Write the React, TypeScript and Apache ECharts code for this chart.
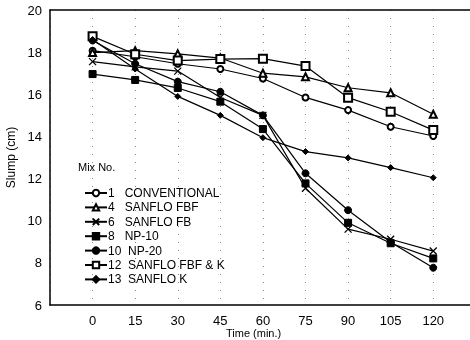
import React, { useEffect, useRef } from "react";
import * as echarts from "echarts";

const times = [0, 15, 30, 45, 60, 75, 90, 105, 120];
const xTickLabels = ["0", "15", "30", "45", "60", "75", "90", "105", "120"];
const yTickLabels = [6, 8, 10, 12, 14, 16, 18, 20];

const mix1 = [18.07, 17.78, 17.45, 17.2, 16.75, 15.85, 15.25, 14.46, 14.02];
const mix4 = [17.98, 18.07, 17.92, 17.72, 17.0, 16.83, 16.31, 16.07, 15.05];
const mix6 = [17.55, 17.3, 17.1, 15.85, 15.0, 11.54, 9.6, 9.12, 8.56];
const mix8 = [16.96, 16.68, 16.3, 15.65, 14.35, 11.77, 9.9, 8.93, 8.21];
const mix10 = [18.55, 17.45, 16.6, 16.12, 15.0, 12.25, 10.5, 8.98, 7.77];
const mix12 = [18.75, 17.9, 17.6, 17.67, 17.69, 17.34, 15.84, 15.17, 14.3];
const mix13 = [18.6, 17.2, 15.9, 15.0, 13.94, 13.28, 12.98, 12.52, 12.04];

const seriesNames = [
  "1   CONVENTIONAL",
  "4   SANFLO FBF",
  "6   SANFLO FB",
  "8   NP-10",
  "10  NP-20",
  "12  SANFLO FBF & K",
  "13  SANFLO K",
];
const seriesData = [mix1, mix4, mix6, mix8, mix10, mix12, mix13];
const symbols = [
  "emptyCircle",
  "emptyTriangle",
  "path://M0,0L10,10M10,0L0,10",
  "rect",
  "circle",
  "emptyRect",
  "diamond",
];
const symbolSizes = [6, 7, 7, 7, 7, 8, 6];

const FONT = "'Liberation Sans', Arial, Helvetica, sans-serif";

export default function App() {
  const ref = useRef<HTMLDivElement>(null);
  useEffect(() => {
    if (!ref.current) return;
    const chart = echarts.init(ref.current, null, { renderer: "svg" });
    const series = seriesNames.map((name, i) => ({
      name,
      type: "line",
      data: times.map((t, j) => [t, seriesData[i][j]]),
      symbol: symbols[i],
      symbolSize: symbolSizes[i],
      showAllSymbol: true,
      lineStyle: { color: "#000", width: 1.2 },
      itemStyle: {
        color: "#000",
        borderColor: "#000",
        borderWidth: i === 2 ? 1.3 : 1,
      },
      emphasis: { disabled: true },
    }));
    chart.setOption({
      animation: false,
      textStyle: { fontFamily: FONT },
      grid: { left: 50, right: -3, top: 10, bottom: 35, outerBoundsMode: "none" },
      xAxis: [
        {
          type: "value",
          min: -15,
          max: 134,
          interval: 15,
          axisLine: { onZero: false, lineStyle: { color: "#000", width: 1.5 } },
          axisTick: { show: false },
          axisLabel: {
            color: "#000",
            fontSize: 13,
            fontFamily: FONT,
            margin: 9,
            showMaxLabel: false,
            formatter: (v: number) => {
              const idx = times.indexOf(v);
              return idx >= 0 ? xTickLabels[idx] : "";
            },
          },
          splitLine: {
            show: true,
            lineStyle: { color: "#888", type: [1, 7], width: 1 },
          },
        },
        {
          type: "value",
          position: "top",
          min: -15,
          max: 134,
          interval: 15,
          axisLine: { show: true, onZero: false, lineStyle: { color: "#000", width: 1.5 } },
          axisTick: { show: false },
          axisLabel: { show: false },
          splitLine: { show: false },
        },
      ],
      yAxis: {
        type: "value",
        min: yTickLabels[0],
        max: yTickLabels[yTickLabels.length - 1],
        interval: 2,
        name: "Slump (cm)",
        nameLocation: "middle",
        nameGap: 32,
        nameTextStyle: { color: "#000", fontSize: 12, fontFamily: FONT },
        axisLine: { show: true, onZero: false, lineStyle: { color: "#000", width: 1.5 } },
        axisTick: { show: false },
        axisLabel: { color: "#000", fontSize: 13, fontFamily: FONT, margin: 8 },
        splitLine: { show: false },
      },
      legend: {
        orient: "vertical",
        left: 84,
        top: 187,
        padding: 0,
        itemWidth: 22,
        itemHeight: 8,
        itemGap: 2.4,
        selectedMode: false,
        data: seriesNames,
        textStyle: {
          color: "#000",
          fontSize: 12,
          fontFamily: FONT,
          padding: [0, 0, 0, -4],
        },
      },
      graphic: [
        {
          type: "text",
          left: 78,
          top: 161,
          style: { text: "Mix No.", fill: "#000", fontSize: 11, fontFamily: FONT },
        },
        {
          type: "text",
          left: 226,
          top: 327,
          style: {
            text: "Time (min.)",
            fill: "#000",
            fontSize: 11,
            fontFamily: FONT,
          },
        },
      ],
      series,
    });
    return () => chart.dispose();
  }, []);
  return (
    <div
      ref={ref}
      style={{ position: "fixed", left: 0, top: 0, width: 470, height: 340 }}
    />
  );
}
